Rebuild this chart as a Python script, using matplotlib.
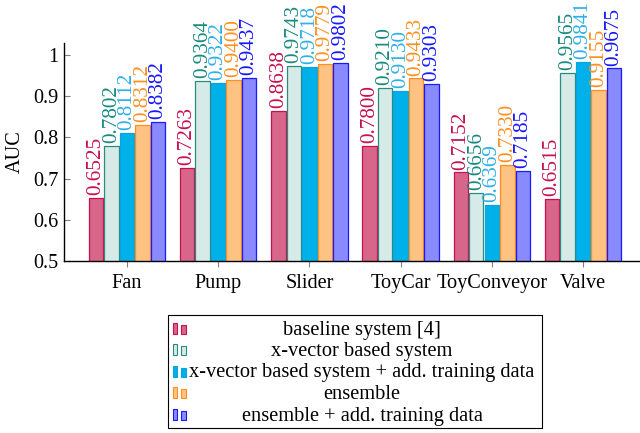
import numpy as np
import matplotlib
matplotlib.use('Agg')
import matplotlib.pyplot as plt
from matplotlib.patches import Rectangle

plt.rcParams['font.family'] = ['Liberation Serif', 'DejaVu Serif']
plt.rcParams['font.size'] = 14.6

# AUC per machine type
machines = ['Fan', 'Pump', 'Slider', 'ToyCar', 'ToyConveyor', 'Valve']
systems = ['baseline system [4]', 'x-vector based system',
           'x-vector based system + add. training data', 'ensemble',
           'ensemble + add. training data']
baseline = [0.6525, 0.7263, 0.8638, 0.7800, 0.7152, 0.6515]
xvector = [0.7802, 0.9364, 0.9743, 0.9210, 0.6656, 0.9565]
xvector_add = [0.8112, 0.9322, 0.9718, 0.9130, 0.6369, 0.9841]
ensemble = [0.8312, 0.9400, 0.9779, 0.9433, 0.7330, 0.9155]
ensemble_add = [0.8382, 0.9437, 0.9802, 0.9303, 0.7185, 0.9675]
series = [baseline, xvector, xvector_add, ensemble, ensemble_add]

fills = ['#d8668a', '#d6ebe8', '#00b0e8', '#fec283', '#8a8aff']
edges = ['#c8104f', '#2a8a80', '#08a4e0', '#ff8f1f', '#1a1aff']
textcol = ['#c8104f', '#1a8a80', '#30b0e8', '#ff9020', '#1818ff']

fig = plt.figure(figsize=(6.4, 4.33), dpi=100)
ax = fig.add_axes([0.1005, 0.397, 0.8995, 0.5037])

x = np.arange(len(machines))
step = 0.17
width = 0.158
for i, vals in enumerate(series):
    pos = x + (i - 2) * step
    ax.bar(pos, vals, width, bottom=0, color=fills[i], edgecolor=edges[i],
           linewidth=0.9)
    for px, v in zip(pos, vals):
        ax.annotate(f'{v:.4f}', (px, v), xytext=(0, 2), textcoords='offset points',
                    rotation=90, ha='center', va='bottom', color=textcol[i],
                    fontsize=15.3, annotation_clip=False, clip_on=False)

ax.set_xlim(-0.687, 5.625)
ax.set_ylim(0.5, 1.029)
ax.set_xticks(x)
ax.set_xticklabels(machines)
ax.set_yticks([0.5, 0.6, 0.7, 0.8, 0.9, 1.0])
ax.set_yticklabels(['0.5', '0.6', '0.7', '0.8', '0.9', '1'])
ax.spines['top'].set_visible(False)
ax.spines['right'].set_visible(False)
ax.spines['left'].set_linewidth(1.0)
ax.spines['bottom'].set_linewidth(1.0)
ax.tick_params(axis='y', direction='in', length=4.3, color='#808080', pad=4)
ax.tick_params(axis='x', direction='out', length=4, color='#808080', pad=5)
ax.set_ylabel('AUC')
ax.yaxis.set_label_coords(-0.068, 0.5)

# legend box drawn by hand so the entries can be centred
W, H = 640.0, 433.0
fig.patches.append(Rectangle((168 / W, 1 - 428 / H), 374 / W, 113 / H,
                             transform=fig.transFigure, fill=False,
                             edgecolor='black', linewidth=0.8))
row_y = [330, 351.5, 373, 394.5, 416]
for i, name in enumerate(systems):
    yb = row_y[i] + 3.5
    fig.patches.append(Rectangle((172.7 / W, 1 - yb / H), 4.6 / W, 10.6 / H,
                                 transform=fig.transFigure, facecolor=fills[i],
                                 edgecolor=edges[i], linewidth=0.8))
    fig.patches.append(Rectangle((181 / W, 1 - yb / H), 4.6 / W, 9 / H,
                                 transform=fig.transFigure, facecolor=fills[i],
                                 edgecolor=edges[i], linewidth=0.8))
    fig.text(362 / W, 1 - row_y[i] / H, name, ha='center', va='center',
             fontsize=14.7)

fig.savefig('out.png', dpi=100)
